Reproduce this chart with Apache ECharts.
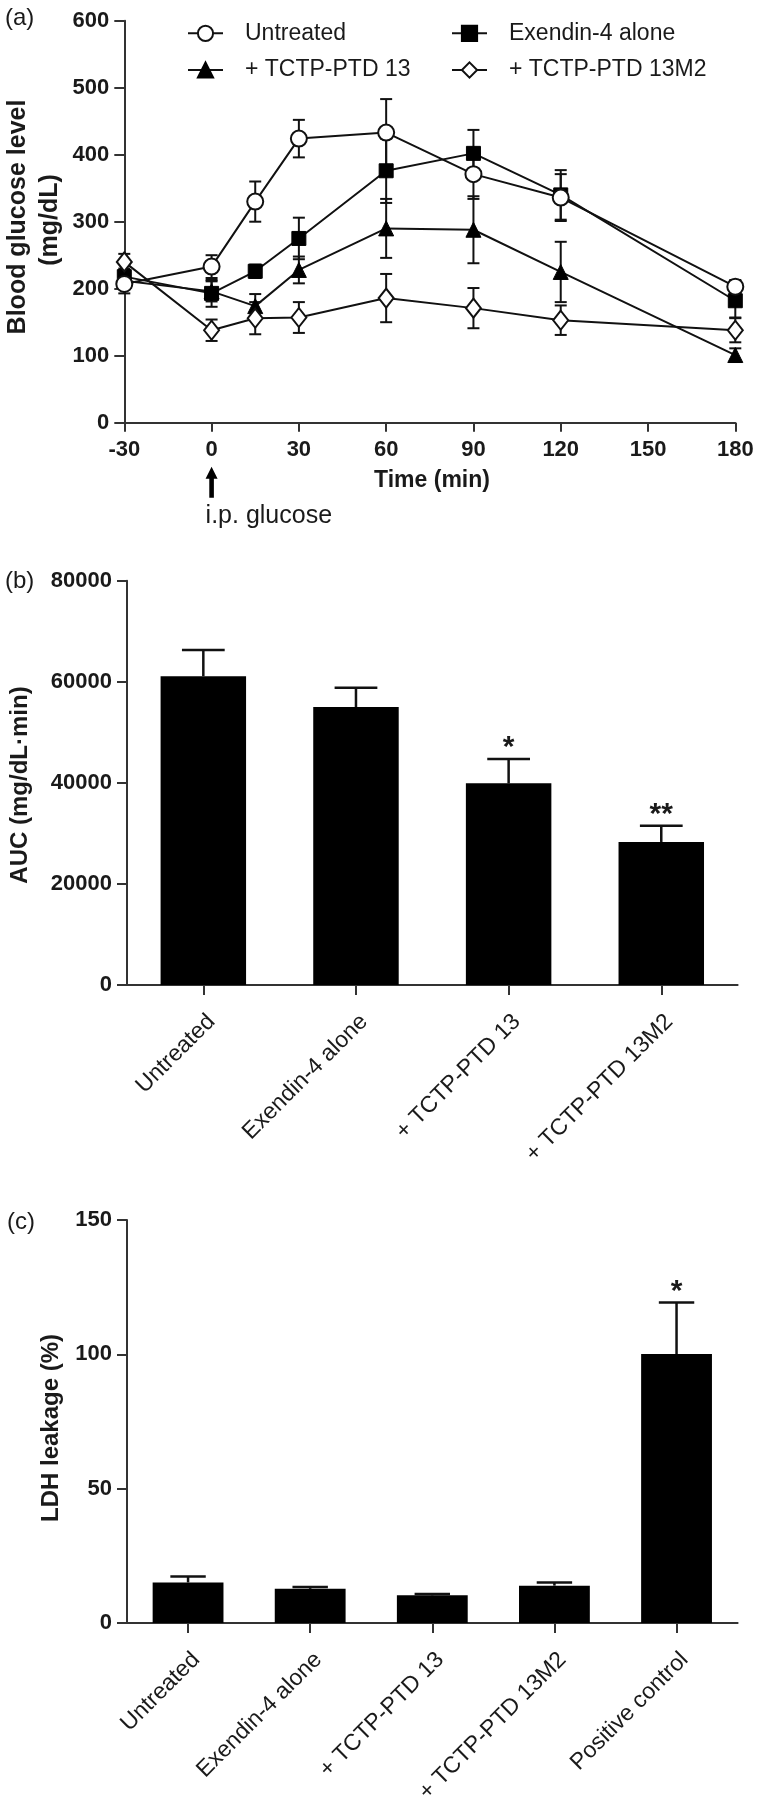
<!DOCTYPE html>
<html><head><meta charset="utf-8">
<script src="https://cdn.jsdelivr.net/npm/echarts@6/dist/echarts.min.js"></script>
<style>html,body{margin:0;padding:0;background:#fff}#c{width:760px;height:1806px}</style>
</head><body><div id="c"></div>
<script>
// ---- Panel (a): blood glucose time course ----
const times = [-30, 0, 15, 30, 60, 90, 120, 180];
const untreated      = [207, 233, 330, 424, 433, 371, 336, 203];
const untreatedErr   = [14, 17, 30, 28, 50, 37, 35, 10];
const exendin        = [218, 193, 226, 275, 376, 402, 340, 182];
const exendinErr     = [12, 20, 10, 31, 48, 35, 37, 25];
const tctp13         = [212, 196, 174, 228, 290, 288, 225, 101];
const tctp13Err      = [10, 15, 18, 20, 44, 50, 45, 10];
const tctp13m2       = [240, 138, 156, 157, 186, 171, 153, 138];
const tctp13m2Err    = [12, 16, 24, 23, 36, 30, 22, 18];
const glucoseTicks   = [0, 100, 200, 300, 400, 500, 600];

// ---- Panel (b): AUC ----
const aucCats   = ['Untreated', 'Exendin-4 alone', '+ TCTP-PTD 13', '+ TCTP-PTD 13M2'];
const aucValues = [61100, 55000, 39900, 28300];
const aucErr    = [5200, 3800, 4800, 3200];
const aucSig    = ['', '', '*', '**'];

// ---- Panel (c): LDH leakage ----
const ldhCats   = ['Untreated', 'Exendin-4 alone', '+ TCTP-PTD 13', '+ TCTP-PTD 13M2', 'Positive control'];
const ldhValues = [15.1, 12.7, 10.3, 13.9, 100.1];
const ldhErr    = [2.2, 0.7, 0.5, 1.2, 19.2];
const ldhSig    = ['', '', '', '', '*'];

const FONT = '"Liberation Sans", Arial, Helvetica, sans-serif';
const INK = '#1a1a1a';
const AX = '#333';

const chart = echarts.init(document.getElementById('c'), null, {renderer: 'canvas'});

function pairs(ys) { return times.map((t, i) => [t, ys[i]]); }
function errData(ys, es) { return times.map((t, i) => [t, ys[i], es[i]]); }

function lineErrRender(capHalf) {
  return function (params, api) {
    const x = api.value(0), y = api.value(1), e = api.value(2);
    const top = api.coord([x, y + e]);
    const bot = api.coord([x, y - e]);
    const style = {stroke: '#111', lineWidth: 2};
    return {type: 'group', children: [
      {type: 'line', shape: {x1: top[0], y1: top[1], x2: bot[0], y2: bot[1]}, style: style},
      {type: 'line', shape: {x1: top[0] - capHalf, y1: top[1], x2: top[0] + capHalf, y2: top[1]}, style: style},
      {type: 'line', shape: {x1: bot[0] - capHalf, y1: bot[1], x2: bot[0] + capHalf, y2: bot[1]}, style: style}
    ]};
  };
}

function barErrRender(capFrac, sigs) {
  return function (params, api) {
    const i = api.value(0), v = api.value(1), e = api.value(2);
    const sig = sigs[params.dataIndex];
    const base = api.coord([i, v]);
    const top = api.coord([i, v + e]);
    const band = api.size([1, 0])[0];
    const half = band * capFrac / 2;
    const style = {stroke: '#111', lineWidth: 2.5};
    const children = [
      {type: 'line', shape: {x1: base[0], y1: base[1], x2: top[0], y2: top[1]}, style: style},
      {type: 'line', shape: {x1: top[0] - half, y1: top[1], x2: top[0] + half, y2: top[1]}, style: style}
    ];
    if (sig) {
      children.push({type: 'text', x: top[0], y: top[1] - 11,
        style: {text: sig, font: 'bold 30px ' + FONT, fill: INK,
          align: 'center', verticalAlign: 'middle', textAlign: 'center', textVerticalAlign: 'middle'}});
    }
    return {type: 'group', children: children};
  };
}

const axisLineStyle = {color: AX, width: 2};
const tickLabel = {fontSize: 22, fontWeight: 'bold', color: INK, fontFamily: FONT};
const catLabel = {fontSize: 23, color: INK, fontFamily: FONT, rotate: 45, interval: 0,
  margin: 25, align: 'right', verticalAlign: 'top'};

const legendText = {fontSize: 23, color: INK, fontFamily: FONT, padding: [0, 0, 0, 17]};

const option = {
  animation: false,
  backgroundColor: '#fff',
  legend: [
    {data: ['Untreated', '+ TCTP-PTD 13'], orient: 'vertical', left: 187, top: 21.8, padding: 0,
     itemWidth: 35, itemHeight: 19, itemGap: 13.7, textStyle: legendText, selectedMode: false},
    {data: ['Exendin-4 alone', '+ TCTP-PTD 13M2'], orient: 'vertical', left: 451, top: 21.8, padding: 0,
     itemWidth: 35, itemHeight: 19, itemGap: 13.7, textStyle: legendText, selectedMode: false}
  ],
  grid: [
    {left: 124.3, width: 611, top: 20.7, height: 402},
    {left: 127, width: 610.6, top: 580.7, height: 404.3},
    {left: 127, width: 610.6, top: 1220, height: 406.5}
  ],
  xAxis: [
    {type: 'value', gridIndex: 0, min: -30, max: 180, interval: 30,
     axisLine: {show: true, onZero: false, lineStyle: axisLineStyle},
     axisTick: {show: true, length: 9, lineStyle: axisLineStyle},
     splitLine: {show: false},
     axisLabel: Object.assign({margin: 16}, tickLabel)},
    {type: 'category', gridIndex: 1, data: aucCats,
     axisLine: {show: true, onZero: false, lineStyle: axisLineStyle},
     axisTick: {show: true, alignWithLabel: true, length: 10, lineStyle: axisLineStyle},
     axisLabel: catLabel},
    {type: 'category', gridIndex: 2, data: ldhCats,
     axisLine: {show: true, onZero: false, lineStyle: axisLineStyle},
     axisTick: {show: true, alignWithLabel: true, length: 10, lineStyle: axisLineStyle},
     axisLabel: catLabel}
  ],
  yAxis: [
    {type: 'value', gridIndex: 0, min: glucoseTicks[0], max: glucoseTicks[glucoseTicks.length - 1], interval: 100,
     axisLine: {show: true, onZero: false, lineStyle: axisLineStyle},
     axisTick: {show: true, length: 10, lineStyle: axisLineStyle},
     splitLine: {show: false},
     axisLabel: Object.assign({margin: 15}, tickLabel)},
    {type: 'value', gridIndex: 1, min: 0, max: 80000, interval: 20000,
     axisLine: {show: true, onZero: false, lineStyle: axisLineStyle},
     axisTick: {show: true, length: 10, lineStyle: axisLineStyle},
     splitLine: {show: false},
     axisLabel: Object.assign({margin: 15, formatter: (v) => String(v)}, tickLabel)},
    {type: 'value', gridIndex: 2, min: 0, max: 150, interval: 50,
     axisLine: {show: true, onZero: false, lineStyle: axisLineStyle},
     axisTick: {show: true, length: 10, lineStyle: axisLineStyle},
     splitLine: {show: false},
     axisLabel: Object.assign({margin: 15}, tickLabel)}
  ],
  series: [
    {name: 'errU', type: 'custom', xAxisIndex: 0, yAxisIndex: 0, z: 2, data: errData(untreated, untreatedErr), renderItem: lineErrRender(6)},
    {name: 'errE', type: 'custom', xAxisIndex: 0, yAxisIndex: 0, z: 2, data: errData(exendin, exendinErr), renderItem: lineErrRender(6)},
    {name: 'errT', type: 'custom', xAxisIndex: 0, yAxisIndex: 0, z: 2, data: errData(tctp13, tctp13Err), renderItem: lineErrRender(6)},
    {name: 'errM', type: 'custom', xAxisIndex: 0, yAxisIndex: 0, z: 2, data: errData(tctp13m2, tctp13m2Err), renderItem: lineErrRender(6)},
    {name: 'Untreated', type: 'line', xAxisIndex: 0, yAxisIndex: 0, z: 5, data: pairs(untreated),
     symbol: 'emptyCircle', symbolSize: 16, lineStyle: {color: '#111', width: 2},
     itemStyle: {color: '#111', borderColor: '#111', borderWidth: 2}},
    {name: 'Exendin-4 alone', type: 'line', xAxisIndex: 0, yAxisIndex: 0, z: 4, data: pairs(exendin),
     symbol: 'rect', symbolSize: 14, lineStyle: {color: '#111', width: 2},
     itemStyle: {color: '#000', borderColor: '#000', borderWidth: 1}},
    {name: '+ TCTP-PTD 13', type: 'line', xAxisIndex: 0, yAxisIndex: 0, z: 4, data: pairs(tctp13),
     symbol: 'triangle', symbolSize: 15, lineStyle: {color: '#111', width: 2},
     itemStyle: {color: '#000', borderColor: '#000', borderWidth: 1}},
    {name: '+ TCTP-PTD 13M2', type: 'line', xAxisIndex: 0, yAxisIndex: 0, z: 5, data: pairs(tctp13m2),
     symbol: 'emptyDiamond', symbolSize: [15, 19], lineStyle: {color: '#111', width: 2},
     itemStyle: {color: '#111', borderColor: '#111', borderWidth: 2}},

    {name: 'AUC', type: 'bar', xAxisIndex: 1, yAxisIndex: 1, data: aucValues, barWidth: '56%',
     itemStyle: {color: '#000'}, z: 3},
    {name: 'errAUC', type: 'custom', xAxisIndex: 1, yAxisIndex: 1, z: 2,
     data: aucValues.map((v, i) => [i, v, aucErr[i]]),
     renderItem: barErrRender(0.56 / 2, aucSig)},

    {name: 'LDH', type: 'bar', xAxisIndex: 2, yAxisIndex: 2, data: ldhValues, barWidth: '58%',
     itemStyle: {color: '#000'}, z: 3},
    {name: 'errLDH', type: 'custom', xAxisIndex: 2, yAxisIndex: 2, z: 2,
     data: ldhValues.map((v, i) => [i, v, ldhErr[i]]),
     renderItem: barErrRender(0.58 / 2, ldhSig)}
  ]
};

chart.setOption(option);

const p0 = chart.convertToPixel({xAxisIndex: 0, yAxisIndex: 0}, [0, 0]);
const ax = p0[0];
function txt(t, x, y, font, opts) {
  return Object.assign({type: 'text', x: x, y: y, z: 100,
    style: {text: t, font: font, fill: INK,
      align: (opts && opts.align) || 'center', verticalAlign: 'middle',
      textAlign: (opts && opts.align) || 'center', textVerticalAlign: 'middle'}},
    opts && opts.rotation !== undefined ? {rotation: opts.rotation} : {});
}
chart.setOption({
  graphic: {elements: [
    txt('(a)', 5, 18, '24px ' + FONT, {align: 'left'}),
    txt('(b)', 5, 581, '24px ' + FONT, {align: 'left'}),
    txt('(c)', 7, 1222, '24px ' + FONT, {align: 'left'}),
    txt('Blood glucose level', 18, 217, 'bold 25px ' + FONT, {rotation: Math.PI / 2}),
    txt('(mg/dL)', 50, 220, 'bold 25px ' + FONT, {rotation: Math.PI / 2}),
    txt('Time (min)', 432, 481, 'bold 23px ' + FONT),
    txt('i.p. glucose', ax - 6, 516, '25px ' + FONT, {align: 'left'}),
    {type: 'polygon', z: 100, shape: {points: [
      [ax, p0[1] + 44], [ax - 6, p0[1] + 56], [ax - 2.3, p0[1] + 56], [ax - 2.3, p0[1] + 75],
      [ax + 2.3, p0[1] + 75], [ax + 2.3, p0[1] + 56], [ax + 6, p0[1] + 56]]},
      style: {fill: '#000'}},
    txt('AUC (mg/dL\u00b7min)', 20, 785, 'bold 24px ' + FONT, {rotation: Math.PI / 2}),
    txt('LDH leakage (%)', 51, 1428, 'bold 24px ' + FONT, {rotation: Math.PI / 2})
  ]}
});
</script>
</body></html>
